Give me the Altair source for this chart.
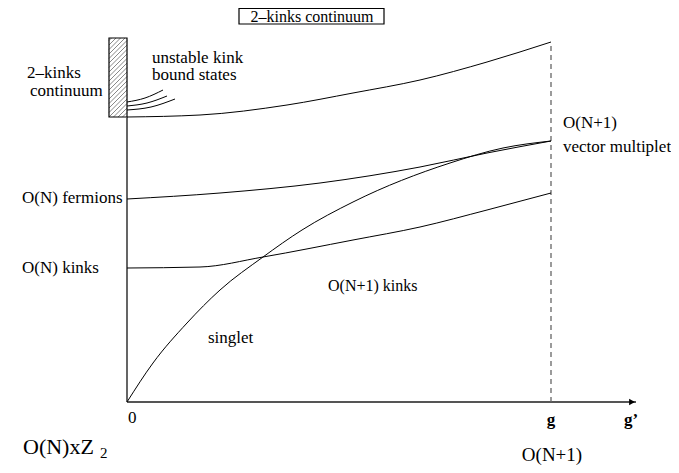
import altair as alt
import pandas as pd
import numpy as np

# ---- data (schematic units: x in coupling units, y in mass units) ----
top_x = [0, 73, 160, 226, 293, 360, 424]
top_y = [285, 287, 297, 309, 322, 340, 360]

ferm_x = [0, 93, 193, 293, 360, 424]
ferm_y = [203, 209, 219, 235, 249, 261]

kink_x = [0, 73, 136, 226, 293, 360, 424]
kink_y = [134, 135, 145, 162, 175, 192, 209]

sing_x = [0, 26, 60, 93, 136, 175, 226, 323, 376, 424]
sing_y = [0, 39, 79, 112, 145, 172, 200, 239, 254, 261]

bs1_x, bs1_y = [0, 18, 36], [300, 304, 312]
bs2_x, bs2_y = [0, 20, 40], [296, 299, 306]
bs3_x, bs3_y = [0, 24, 48], [292, 295, 303]

box_x = [-18, 0]
box_y = [285, 364]

g_pos = 424
axis_end = 509
vaxis_top = 285
dashed_top = 360

curves = []
for name, xs, ys in [("top", top_x, top_y), ("ferm", ferm_x, ferm_y),
                     ("kink", kink_x, kink_y), ("sing", sing_x, sing_y),
                     ("bs1", bs1_x, bs1_y), ("bs2", bs2_x, bs2_y),
                     ("bs3", bs3_x, bs3_y)]:
    for i, (a, b) in enumerate(zip(xs, ys)):
        curves.append({"curve": name, "o": i, "x": a, "y": b})
curves = pd.DataFrame(curves)

# hatch segments clipped to the box (lines y = x + c)
hatch = []
x0, x1 = box_x
y0, y1 = box_y
for c in np.arange(y0 - x1, y1 - x0, 4.5):
    xa = max(x0, y0 - c); xb = min(x1, y1 - c)
    if xb > xa:
        hatch.append({"x": float(xa), "y": float(xa + c), "x2": float(xb), "y2": float(xb + c)})
hatch = pd.DataFrame(hatch)

X = alt.Scale(domain=[-119, 544])
Y = alt.Scale(domain=[-63, 394])

def xe(f="x"):
    return alt.X(f, type="quantitative", scale=X, axis=None)

def ye(f="y"):
    return alt.Y(f, type="quantitative", scale=Y, axis=None)

FONT = "Times New Roman"

def label(df, size=17, align="left", bold=False):
    kw = dict(font=FONT, fontSize=size, align=align, baseline="middle", color="black")
    if bold:
        kw["fontWeight"] = "bold"
    return alt.Chart(pd.DataFrame(df)).mark_text(**kw).encode(x=xe(), y=ye(), text="t:N")

labels = [
    label({"x": [185], "y": [385.5], "t": ["2–kinks continuum"]}, size=16, align="center"),
    label({"x": [-100, -97], "y": [329, 311], "t": ["2–kinks", "continuum"]}),
    label({"x": [25, 25], "y": [344, 327], "t": ["unstable kink", "bound states"]}),
    label({"x": [-105, -105], "y": [204, 134], "t": ["O(N) fermions", "O(N) kinks"]}),
    label({"x": [201], "y": [116], "t": ["O(N+1) kinks"]}, size=16),
    label({"x": [81], "y": [64], "t": ["singlet"]}),
    label({"x": [436, 436], "y": [279, 255], "t": ["O(N+1)", "vector multiplet"]}),
    label({"x": [1], "y": [-16], "t": ["0"]}),
    label({"x": [424, 504], "y": [-18, -18], "t": ["g", "g’"]}, size=17, align="center", bold=True),
    label({"x": [425], "y": [-53], "t": ["O(N+1)"]}, size=19, align="center"),
    label({"x": [-104], "y": [-45], "t": ["O(N)xZ"]}, size=22),
    label({"x": [-27], "y": [-51], "t": ["2"]}, size=15),
]

lines = alt.Chart(curves).mark_line(color="black", strokeWidth=1, interpolate="monotone").encode(
    x=xe(), y=ye(), detail="curve:N", order="o:Q")

axes_df = pd.DataFrame([
    {"x": 0, "y": 0, "x2": axis_end, "y2": 0},
    {"x": 0, "y": 0, "x2": 0, "y2": vaxis_top},
])
axes = alt.Chart(axes_df).mark_rule(color="#555555", strokeWidth=1.8).encode(
    x=xe(), y=ye(), x2="x2", y2="y2")

arrow = alt.Chart(pd.DataFrame({"x": [axis_end - 4], "y": [0]})).mark_point(
    shape="triangle-right", filled=True, color="black", size=45, opacity=1).encode(x=xe(), y=ye())

dashed = alt.Chart(pd.DataFrame({"x": [g_pos], "y": [0], "y2": [dashed_top]})).mark_rule(
    color="#666666", strokeWidth=1.3, strokeDash=[5, 4]).encode(x=xe(), y=ye(), y2="y2")

hatch_l = alt.Chart(hatch).mark_rule(color="#555555", strokeWidth=0.7).encode(
    x=xe(), y=ye(), x2="x2", y2="y2")

box = alt.Chart(pd.DataFrame({"x": [box_x[0]], "x2": [box_x[1]], "y": [box_y[0]], "y2": [box_y[1]]})).mark_rect(
    fillOpacity=0, stroke="black", strokeWidth=1.2).encode(x=xe(), x2="x2", y=ye(), y2="y2")

topbox = alt.Chart(pd.DataFrame({"x": [112], "x2": [257], "y": [378], "y2": [393.5]})).mark_rect(
    fillOpacity=0, stroke="black", strokeWidth=1.2).encode(x=xe(), x2="x2", y=ye(), y2="y2")

chart = alt.layer(*labels, hatch_l, box, topbox, axes, dashed, arrow, lines).properties(
    width=663, height=457, autosize=alt.AutoSizeParams(type="none"), padding=0
).configure_view(stroke=None).configure_text(font=FONT)

chart.save("out.html", embed_options={"renderer": "svg", "actions": False})
